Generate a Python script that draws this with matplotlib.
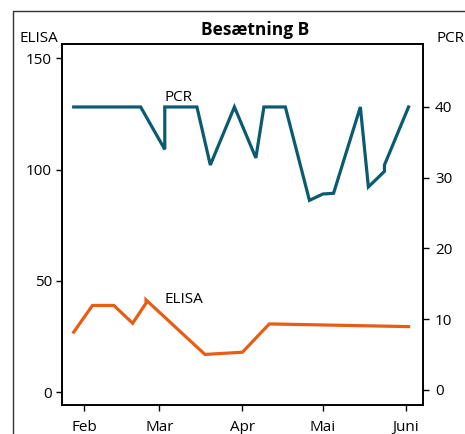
import numpy as np
import pandas as pd
import matplotlib
matplotlib.use("Agg")
import matplotlib.pyplot as plt
import matplotlib.dates as mdates
from matplotlib.lines import Line2D

plt.rcParams["font.family"] = ["Open Sans", "DejaVu Sans"]

# PCR (højre akse)
pcr_datoer = ["2023-01-28", "2023-02-22", "2023-03-03", "2023-03-03", "2023-03-15",
              "2023-03-20", "2023-03-29", "2023-04-06", "2023-04-09", "2023-04-17",
              "2023-04-26", "2023-05-01", "2023-05-05", "2023-05-15", "2023-05-18",
              "2023-05-24", "2023-05-24", "2023-06-02"]
pcr_vaerdi = [40, 40, 34, 40, 40, 31.8, 40, 32.8, 40, 40,
              26.8, 27.7, 27.8, 40, 28.7, 30.9, 31.8, 40]

# ELISA (venstre akse)
elisa_datoer = ["2023-01-28", "2023-02-04", "2023-02-12", "2023-02-19", "2023-02-24",
                "2023-02-24", "2023-03-18", "2023-04-01", "2023-04-11", "2023-06-02"]
elisa_vaerdi = [27, 39, 39, 31, 40, 41.5, 17, 18, 30.7, 29.5]

maaned_pos = ["2023-02-01", "2023-03-01", "2023-04-01", "2023-05-01", "2023-06-01"]
maaned_navne = ["Feb", "Mar", "Apr", "Mai", "Juni"]

pcr_x = pd.to_datetime(pcr_datoer)
elisa_x = pd.to_datetime(elisa_datoer)

fig = plt.figure(figsize=(4.65, 4.34), dpi=100)
ax = fig.add_axes([62.3 / 465, 29 / 434, 361 / 465, 361 / 434])
ax2 = ax.twinx()

ax.plot(elisa_x, elisa_vaerdi, color="#e85d14", lw=2.3, solid_joinstyle="miter")
ax2.plot(pcr_x, pcr_vaerdi, color="#0b5b70", lw=2.3, solid_joinstyle="miter")

ax.set_xlim(pd.Timestamp("2023-01-23 18:00"), pd.Timestamp("2023-06-07 12:00"))
ax.set_ylim(-5.7, 156.4)
ax2.set_ylim(-2.12, 48.9)

ax.set_yticks([0, 50, 100, 150])
ax2.set_yticks([0, 10, 20, 30, 40])
ax.set_xticks(mdates.date2num(pd.to_datetime(maaned_pos)))
ax.set_xticklabels(maaned_navne)

ax.tick_params(axis="y", length=4.5, width=1, labelsize=11, pad=3)
ax.tick_params(axis="x", length=4.5, width=1, labelsize=11, pad=6)
ax2.tick_params(axis="y", length=4.5, width=1, labelsize=11, pad=4)
for a in (ax, ax2):
    for s in a.spines.values():
        s.set_linewidth(1.2)

ax.text(pd.Timestamp("2023-03-03"), 131, "PCR", fontsize=11, va="baseline")
ax.text(pd.Timestamp("2023-03-03"), 40.3, "ELISA", fontsize=11, va="baseline")

fig.text(19 / 465, 1 - 42 / 434, "ELISA", fontsize=11, va="baseline")
fig.text(436 / 465, 1 - 42 / 434, "PCR", fontsize=11, va="baseline")
fig.text(255 / 465, 1 - 35 / 434, "Besætning B", fontsize=12.5,
         fontweight="bold", ha="center", va="baseline")

# ydre ramme
fig.add_artist(Line2D([13 / 465, 13 / 465, 1], [0, 1 - 11 / 434, 1 - 11 / 434],
                      transform=fig.transFigure, color="#333333", lw=1))

fig.savefig("out.png", dpi=100)
